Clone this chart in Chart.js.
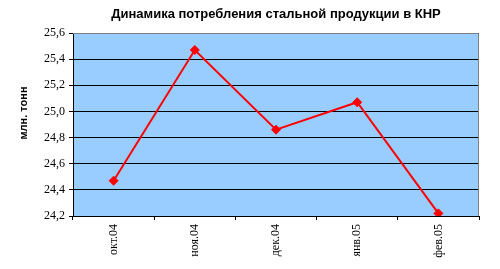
<!DOCTYPE html>
<html>
<head>
<meta charset="utf-8">
<script src="https://cdn.jsdelivr.net/npm/chart.js@4/dist/chart.umd.min.js"></script>
<style>
  html, body { margin: 0; padding: 0; background: #fff; }
  canvas { display: block; }
</style>
</head>
<body>
<canvas id="steelChart" width="500" height="269"></canvas>
<script>
  // Данные графика
  const months = ['окт.04', 'ноя.04', 'дек.04', 'янв.05', 'фев.05'];
  const consumption = [24.47, 25.47, 24.86, 25.07, 24.22]; // млн. тонн
  const yTicks = [24.2, 24.4, 24.6, 24.8, 25.0, 25.2, 25.4, 25.6];

  const chartTitle = 'Динамика потребления стальной продукции в КНР';
  const yAxisTitle = 'млн. тонн';

  // Фон области построения, серая рамка и подпись оси Y
  const plotArea = {
    id: 'plotArea',
    afterLayout(chart) {
      // заголовок центрируется над областью построения
      chart.titleBlock.left = chart.chartArea.left;
      chart.titleBlock.right = chart.chartArea.right;
    },
    beforeDraw(chart) {
      const { ctx, chartArea: a } = chart;
      ctx.save();
      ctx.fillStyle = '#99ccff';
      ctx.fillRect(a.left, a.top, a.right - a.left, a.bottom - a.top);
      ctx.restore();
    },
    beforeDatasetsDraw(chart) {
      const { ctx, chartArea: a } = chart;
      ctx.save();
      ctx.strokeStyle = '#808080';
      ctx.lineWidth = 1;
      ctx.beginPath();
      ctx.moveTo(a.left, a.top + 0.5);
      ctx.lineTo(a.right - 0.5, a.top + 0.5);
      ctx.lineTo(a.right - 0.5, a.bottom);
      ctx.stroke();
      // подпись оси Y
      ctx.translate(24, a.top + 80);
      ctx.rotate(-Math.PI / 2);
      ctx.fillStyle = '#000';
      ctx.font = 'bold 11px "Liberation Sans", Arial, sans-serif';
      ctx.textAlign = 'center';
      ctx.textBaseline = 'middle';
      ctx.fillText(yAxisTitle, 0, 0);
      ctx.restore();
    }
  };

  const ctx = document.getElementById('steelChart').getContext('2d');
  const steelChart = new Chart(ctx, {
    type: 'line',
    data: {
      labels: months,
      datasets: [{
        label: yAxisTitle,
        data: consumption,
        borderColor: '#ff0000',
        backgroundColor: '#ff0000',
        borderWidth: 2,
        pointStyle: 'rectRot',
        pointRadius: 4.5,
        pointBorderWidth: 1,
        tension: 0
      }]
    },
    options: {
      responsive: false,
      animation: false,
      layout: { padding: { right: 21, bottom: 0, left: 0 } },
      plugins: {
        legend: { display: false },
        tooltip: { enabled: false },
        title: {
          display: true,
          text: chartTitle,
          color: '#000',
          font: { family: '"Liberation Sans", Arial, sans-serif', size: 13, weight: 'bold' },
          padding: { top: 7, bottom: 10.4 }
        }
      },
      scales: {
        x: {
          offset: true,
          border: { color: '#000', width: 1 },
          grid: {
            offset: true,
            drawOnChartArea: false,
            drawTicks: true,
            tickLength: 4,
            color: '#000'
          },
          ticks: {
            color: '#000',
            minRotation: 90,
            maxRotation: 90,
            autoSkip: false,
            padding: 4,
            font: { family: '"Liberation Serif", "Times New Roman", serif', size: 12 }
          },
          afterFit(scale) { scale.height = 53; }
        },
        y: {
          min: 24.2,
          max: 25.6,
          border: { color: '#000', width: 1 },
          grid: {
            color: '#000',
            tickLength: 4,
            lineWidth: 1
          },
          afterBuildTicks(scale) {
            scale.ticks = yTicks.map(v => ({ value: v }));
          },
          ticks: {
            color: '#000',
            padding: 4,
            font: { family: '"Liberation Serif", "Times New Roman", serif', size: 12 },
            callback: v => v.toFixed(1).replace('.', ',')
          },
          afterFit(scale) { scale.width = 73; }
        }
      }
    },
    plugins: [plotArea]
  });
</script>
</body>
</html>
